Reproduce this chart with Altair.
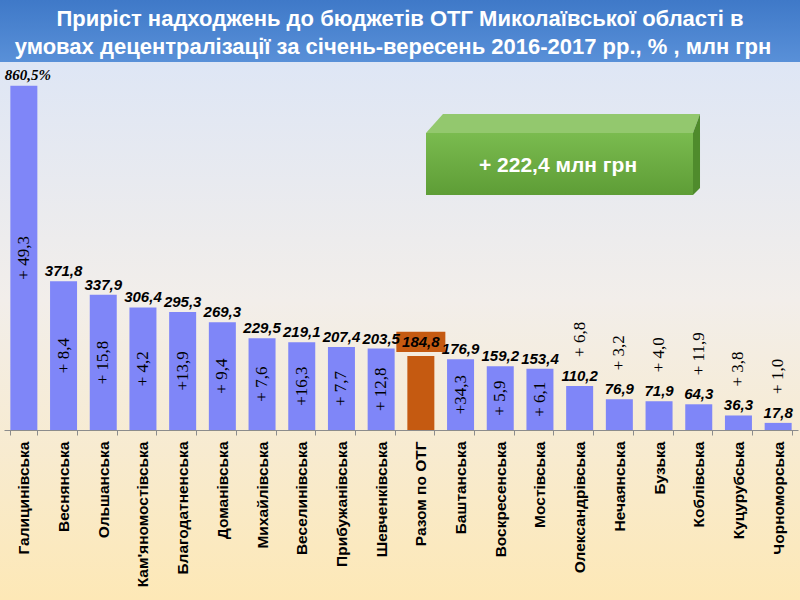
import altair as alt
import pandas as pd

categories = ["Галицинівська", "Веснянська", "Ольшанська", "Кам'яномостівська",
              "Благодатненська", "Доманівська", "Михайлівська", "Веселинівська",
              "Прибужанівська", "Шевченківська", "Разом по ОТГ", "Баштанська",
              "Воскресенська", "Мостівська", "Олександрівська", "Нечаянська",
              "Бузька", "Коблівська", "Куцурубська", "Чорноморська"]
growth_pct = [860.5, 371.8, 337.9, 306.4, 295.3, 269.3, 229.5, 219.1, 207.4, 203.5,
              184.8, 176.9, 159.2, 153.4, 110.2, 76.9, 71.9, 64.3, 36.3, 17.8]
growth_labels = ["860,5%", "371,8", "337,9", "306,4", "295,3", "269,3", "229,5", "219,1",
                 "207,4", "203,5", "184,8", "176,9", "159,2", "153,4", "110,2", "76,9",
                 "71,9", "64,3", "36,3", "17,8"]
increment_labels = ["+ 49,3", "+ 8,4", "+ 15,8", "+ 4,2", "+13,9", "+ 9,4", "+ 7,6", "+16,3",
                    "+ 7,7", "+ 12,8", "", "+34,3", "+ 5,9", "+ 6,1", "+ 6,8", "+ 3,2",
                    "+ 4,0", "+ 11,9", "+ 3,8", "+ 1,0"]
kinds = ["otg"] * 10 + ["total"] + ["otg"] * 9

title_lines = ["Приріст надходжень до бюджетів ОТГ Миколаївської області в",
               "умовах  децентралізації за січень-вересень 2016-2017 рр., % , млн грн"]
total_increment_text = "+ 222,4 млн грн"

df = pd.DataFrame({
    "cat": categories,
    "value": growth_pct,
    "label": growth_labels,
    "inc": increment_labels,
    "kind": kinds,
    "idx": list(range(len(categories))),
})
one = pd.DataFrame({"k": [0]})

BLUE = "#7f86f8"
ORANGE = "#c55a11"

x_enc = alt.X("cat:N", sort=categories,
              scale=alt.Scale(paddingInner=0.32, paddingOuter=0.16),
              axis=alt.Axis(title=None, labelAngle=-90, labelFont="Liberation Sans",
                            labelFontWeight="bold", labelFontSize=15.5, labelColor="#000000",
                            labelPadding=6, domainColor="#8c8c8c", tickColor="#8c8c8c",
                            tickSize=5, tickBand="extent", labelLimit=300, zindex=1))
y_scale = alt.Scale(domain=[0, 900], nice=False)

bg = alt.Chart(one).mark_rect(
    color=alt.Gradient(gradient="linear", x1=0, y1=0, x2=0, y2=1,
                       stops=[alt.GradientStop(color="#d9e4f8", offset=0),
                              alt.GradientStop(color="#f2eeea", offset=0.5),
                              alt.GradientStop(color="#fde8b6", offset=1)])
).encode(x=alt.value(-4), x2=alt.value(796), y=alt.value(-70), y2=alt.value(530))

band = alt.Chart(one).mark_rect(
    color=alt.Gradient(gradient="linear", x1=0, y1=0, x2=0, y2=1,
                       stops=[alt.GradientStop(color="#3f79c8", offset=0),
                              alt.GradientStop(color="#5990d8", offset=1)])
).encode(x=alt.value(-4), x2=alt.value(796), y=alt.value(-70), y2=alt.value(-8))

title1 = alt.Chart(one).mark_text(
    text=title_lines[0], font="Liberation Sans", fontWeight="bold", fontSize=22,
    color="white", align="center", baseline="alphabetic"
).encode(x=alt.value(396), y=alt.value(-44))
title2 = alt.Chart(one).mark_text(
    text=title_lines[1], font="Liberation Sans", fontWeight="bold", fontSize=22,
    color="white", align="center", baseline="alphabetic"
).encode(x=alt.value(389), y=alt.value(-16))

# decorative green 3D box
box_top = alt.Chart(one).mark_point(
    shape="M -1.015 0.0704 L -0.889 -0.0704 L 1.015 -0.0704 L 0.963 0.0704 Z",
    size=270 * 270, filled=True, color="#93c86e", opacity=1, strokeWidth=0
).encode(x=alt.value(559), y=alt.value(53.5))
box_side = alt.Chart(one).mark_point(
    shape="M -0.026 -0.159 L 0.026 -0.3 L 0.026 0.248 L -0.026 0.3 Z",
    size=270 * 270, filled=True, color="#4f8b2c", opacity=1, strokeWidth=0
).encode(x=alt.value(692.5), y=alt.value(84.5))
box_front = alt.Chart(one).mark_rect(
    color=alt.Gradient(gradient="linear", x1=0, y1=0, x2=0, y2=1,
                       stops=[alt.GradientStop(color="#7abb4f", offset=0),
                              alt.GradientStop(color="#5e9d36", offset=1)])
).encode(x=alt.value(422), x2=alt.value(689), y=alt.value(63), y2=alt.value(125))
box_text = alt.Chart(one).mark_text(
    text=total_increment_text, font="Liberation Sans", fontWeight="bold", fontSize=21,
    color="white", align="center", baseline="middle"
).encode(x=alt.value(554), y=alt.value(96))

base = alt.Chart(df)

bars = base.mark_bar().encode(
    x=x_enc,
    y=alt.Y("value:Q", scale=y_scale, axis=None),
    color=alt.Color("kind:N", scale=alt.Scale(domain=["otg", "total"], range=[BLUE, ORANGE]),
                    legend=None),
)

total_box = base.transform_filter("datum.kind == 'total'").transform_calculate(
    y0="datum.value + 10", y1="datum.value + 61"
).mark_bar(width=49, color=ORANGE).encode(
    x=alt.X("cat:N", sort=categories), y=alt.Y("y0:Q", scale=y_scale), y2="y1:Q"
)

value_labels = base.transform_filter("datum.idx > 0").transform_calculate(
    ly="datum.kind == 'total' ? datum.value + 10 : datum.value"
).mark_text(font="Liberation Sans", fontWeight="bold", fontStyle="italic", fontSize=15,
            color="#000000", align="center", baseline="alphabetic", dy=-5).encode(
    x=alt.X("cat:N", sort=categories), y=alt.Y("ly:Q", scale=y_scale), text="label:N"
)

first_label = base.transform_filter("datum.idx == 0").mark_text(
    font="Liberation Serif", fontWeight="bold", fontStyle="italic", fontSize=15,
    color="#000000", align="center", baseline="alphabetic", dy=-6, dx=4
).encode(x=alt.X("cat:N", sort=categories), y=alt.Y("value:Q", scale=y_scale), text="label:N")

inc_inside = base.transform_filter("datum.value >= 150 && datum.inc != ''").transform_calculate(
    mid="datum.value / 2"
).mark_text(font="Liberation Serif", fontSize=17, color="#000000", angle=270,
            align="center", baseline="middle").encode(
    x=alt.X("cat:N", sort=categories), y=alt.Y("mid:Q", scale=y_scale), text="inc:N"
)

inc_above = base.transform_filter("datum.value < 150").mark_text(
    font="Liberation Serif", fontSize=17, color="#000000", angle=270,
    align="left", baseline="middle", dx=29
).encode(x=alt.X("cat:N", sort=categories), y=alt.Y("value:Q", scale=y_scale), text="inc:N")

chart = alt.layer(
    bg, band, title1, title2, bars, total_box, value_labels, first_label,
    inc_inside, inc_above, box_top, box_side, box_front, box_text
).properties(
    width=794, height=360,
    autosize=alt.AutoSizeParams(type="none"),
    padding={"left": 4, "top": 70, "right": 2, "bottom": 170},
).configure_view(stroke=None).configure(background="#fde8b6")

chart.save("out.html", embed_options={"renderer": "svg", "actions": False})
